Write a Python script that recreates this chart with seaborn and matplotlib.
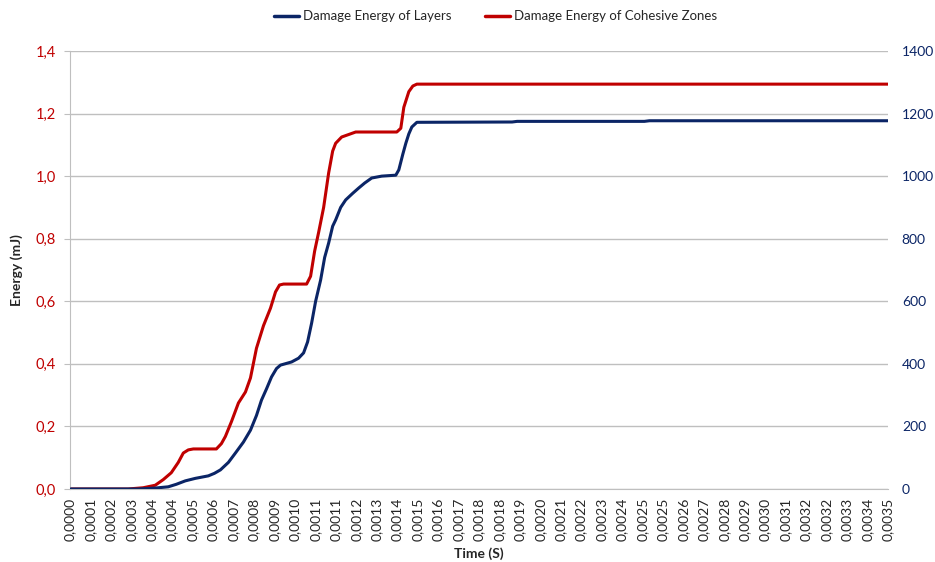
import numpy as np
import pandas as pd
import matplotlib
matplotlib.use("Agg")
import matplotlib.pyplot as plt
from matplotlib.ticker import FixedLocator, MultipleLocator
from matplotlib.lines import Line2D
import seaborn as sns

# x tick labels exactly as printed (one label every 0.0035/40 s, rounded to 4 decimals)
time_labels = ["0,0000", "0,0001", "0,0002", "0,0003", "0,0004", "0,0004", "0,0005",
               "0,0006", "0,0007", "0,0008", "0,0009", "0,0010", "0,0011", "0,0011",
               "0,0012", "0,0013", "0,0014", "0,0015", "0,0016", "0,0017", "0,0018",
               "0,0018", "0,0019", "0,0020", "0,0021", "0,0022", "0,0023", "0,0024",
               "0,0025", "0,0025", "0,0026", "0,0027", "0,0028", "0,0029", "0,0030",
               "0,0031", "0,0032", "0,0032", "0,0033", "0,0034", "0,0035"]
t_max = 0.0035

# damage energy of cohesive zones: time (ms) and energy (mJ, left axis)
coh_t_ms = [0, 0.2488, 0.3131, 0.3646, 0.3989, 0.4332, 0.4632, 0.4847, 0.5061, 0.5276,
            0.6262, 0.6477, 0.6648, 0.6906, 0.7206, 0.7506, 0.7721, 0.7978, 0.8278,
            0.8578, 0.8793, 0.8964, 0.9136, 1.0123, 1.0294, 1.0466, 1.0637, 1.0852,
            1.1066, 1.1238, 1.1366, 1.1624, 1.1924, 1.2224, 1.3983, 1.4154, 1.4283,
            1.4497, 1.4669, 1.4841, 3.5]
coh_energy = [0, 0, 0.004, 0.012, 0.03, 0.052, 0.085, 0.115, 0.125, 0.128, 0.128, 0.145,
              0.168, 0.215, 0.275, 0.31, 0.355, 0.45, 0.522, 0.578, 0.63, 0.652, 0.655,
              0.655, 0.68, 0.76, 0.82, 0.90, 1.01, 1.08, 1.105, 1.125, 1.133, 1.141,
              1.141, 1.153, 1.22, 1.27, 1.288, 1.294, 1.294]

# damage energy of layers: time (ms) and energy (right axis)
lay_t_ms = [0, 0.2917, 0.3646, 0.4203, 0.4547, 0.4933, 0.5362, 0.5919, 0.6176, 0.6434,
            0.6777, 0.7077, 0.7420, 0.7721, 0.7978, 0.8192, 0.8407, 0.8621, 0.8836,
            0.9007, 0.9479, 0.9779, 0.9994, 1.0165, 1.0337, 1.0509, 1.0723, 1.0895,
            1.1066, 1.1238, 1.1366, 1.1581, 1.1795, 1.2095, 1.2353, 1.2610, 1.2910,
            1.3339, 1.3940, 1.4069, 1.4240, 1.4369, 1.4497, 1.4626, 1.4841, 1.8915,
            1.9130, 2.4577, 2.4792, 3.5]
lay_energy = [0, 0, 3, 7, 15, 26, 34, 42, 50, 61, 85, 115, 150, 188, 235, 284, 320, 358,
              385, 396, 406, 418, 435, 470, 530, 600, 668, 740, 786, 840, 860, 900, 924,
              945, 962, 978, 994, 1000, 1003, 1020, 1070, 1105, 1135, 1157, 1172, 1173,
              1175, 1175, 1177, 1177]

left_ticks = [0.0, 0.2, 0.4, 0.6, 0.8, 1.0, 1.2, 1.4]
right_ticks = [0, 200, 400, 600, 800, 1000, 1200, 1400]

RED = "#C00000"
BLUE = "#0B2566"
GRID = "#BFBFBF"

sns.set_style("white")
plt.rcParams["font.family"] = ["Lato", "DejaVu Sans"]

coh = pd.DataFrame({"t": np.array(coh_t_ms) / 1000, "energy": coh_energy})
lay = pd.DataFrame({"t": np.array(lay_t_ms) / 1000, "energy": lay_energy})

fig = plt.figure(figsize=(9.35, 5.62), dpi=100)
ax = fig.add_axes([0.0749, 0.1299, 0.8748, 0.7794])
ax2 = ax.twinx()

sns.lineplot(data=coh, x="t", y="energy", ax=ax, color=RED, linewidth=2.2)
sns.lineplot(data=lay, x="t", y="energy", ax=ax2, color=BLUE, linewidth=2.2)

ax.set_xlim(0, t_max)
ax.set_ylim(0, 1.4)
ax2.set_ylim(0, 1400)

ax.set_yticks(left_ticks)
ax.set_yticklabels([f"{v:.1f}".replace(".", ",") for v in left_ticks], color=RED, fontsize=10.5)
ax2.set_yticks(right_ticks)
ax2.set_yticklabels([str(v) for v in right_ticks], color=BLUE, fontsize=10)

n = len(time_labels) - 1
ax.xaxis.set_major_locator(FixedLocator(np.linspace(0, t_max, n + 1)))
ax.set_xticklabels(time_labels, rotation=90, fontsize=10)
ax.xaxis.set_minor_locator(MultipleLocator(t_max / n / 5))
ax.tick_params(axis="x", which="both", direction="out", length=3.5, color=GRID, width=0.8, pad=3)
ax.tick_params(axis="y", direction="out", length=4, color=GRID, width=0.8, pad=6)
ax2.tick_params(axis="y", length=0, pad=10)

ax.grid(axis="y", color=GRID, linewidth=1)
ax.set_axisbelow(True)
for s in ["top", "right"]:
    ax.spines[s].set_visible(False)
for s in ["top", "right", "left", "bottom"]:
    ax2.spines[s].set_visible(False)
ax.spines["left"].set_color(GRID)
ax.spines["bottom"].set_color(GRID)

ax.set_xlabel("Time (S)", fontweight="bold", fontsize=10, labelpad=4)
ax.set_ylabel("Energy (mJ)", fontweight="bold", fontsize=10, labelpad=9)
ax2.set_ylabel("")

handles = [Line2D([0], [0], color=BLUE, linewidth=2.5),
           Line2D([0], [0], color=RED, linewidth=2.5)]
fig.legend(handles, ["Damage Energy of Layers", "Damage Energy of Cohesive Zones"],
           loc="center", bbox_to_anchor=(0.53, 0.971), ncol=2, frameon=False,
           fontsize=9.5, handlelength=1.9, handletextpad=0.3, columnspacing=2.5)

fig.savefig("out.png", dpi=100)
